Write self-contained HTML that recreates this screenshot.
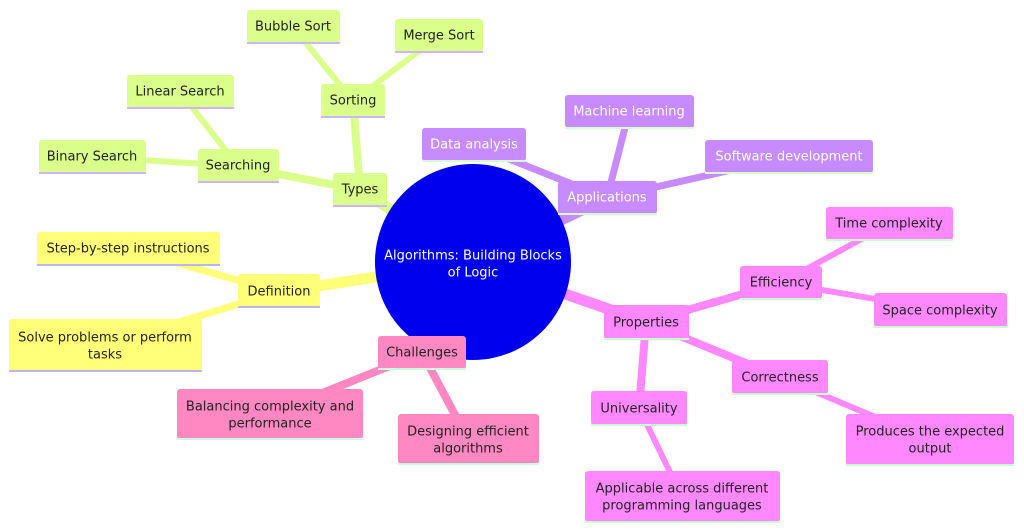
<!DOCTYPE html>
<html><head><meta charset="utf-8"><style>
html,body{margin:0;padding:0;background:#fff;}
svg{display:block;}
text{font-family:"DejaVu Sans","Liberation Sans",sans-serif;font-size:13px;text-anchor:middle;dominant-baseline:central;}
</style></head><body>
<svg width="1024" height="531" viewBox="0 0 1024 531" xmlns="http://www.w3.org/2000/svg">
<g stroke-linecap="round" fill="none">
<g stroke="#daff8a">
<line x1="360" y1="190" x2="473" y2="262" stroke-width="11"/>
<line x1="238" y1="166" x2="360" y2="190" stroke-width="8"/>
<line x1="353" y1="101" x2="360" y2="190" stroke-width="8"/>
<line x1="92" y1="157" x2="238" y2="166" stroke-width="6"/>
<line x1="180" y1="92" x2="238" y2="166" stroke-width="6"/>
<line x1="293" y1="27" x2="353" y2="101" stroke-width="6"/>
<line x1="439" y1="36" x2="353" y2="101" stroke-width="6"/>
</g>
<g stroke="#ffff78">
<line x1="279" y1="292" x2="473" y2="262" stroke-width="11"/>
<line x1="128" y1="249" x2="279" y2="292" stroke-width="7"/>
<line x1="102" y1="345" x2="279" y2="292" stroke-width="7"/>
</g>
<g stroke="#c78bff">
<line x1="607" y1="198" x2="473" y2="262" stroke-width="11"/>
<line x1="474" y1="145" x2="607" y2="198" stroke-width="7"/>
<line x1="629" y1="112" x2="607" y2="198" stroke-width="7"/>
<line x1="789" y1="157" x2="607" y2="198" stroke-width="7"/>
</g>
<g stroke="#ff88ff">
<line x1="646" y1="322" x2="473" y2="262" stroke-width="11"/>
<line x1="781" y1="283" x2="646" y2="322" stroke-width="8"/>
<line x1="780" y1="377" x2="646" y2="322" stroke-width="8"/>
<line x1="639" y1="408" x2="646" y2="322" stroke-width="8"/>
<line x1="889" y1="224" x2="781" y2="283" stroke-width="6"/>
<line x1="940" y1="310" x2="781" y2="283" stroke-width="6"/>
<line x1="930" y1="440" x2="780" y2="377" stroke-width="6"/>
<line x1="682" y1="497" x2="639" y2="408" stroke-width="6"/>
</g>
<g stroke="#ff88c2">
<line x1="422" y1="353" x2="473" y2="262" stroke-width="11"/>
<line x1="270" y1="414" x2="422" y2="353" stroke-width="8"/>
<line x1="468" y1="439" x2="422" y2="353" stroke-width="8"/>
</g>
</g>
<circle cx="473" cy="262" r="98" fill="#0000ee"/>
<text x="473" y="256" fill="#fff">Algorithms: Building Blocks</text>
<text x="473" y="273" fill="#fff">of Logic</text>

<!-- green -->
<g fill="#daff8a">
<rect x="247" y="10" width="93" height="33" rx="3"/>
<rect x="395" y="19" width="88" height="33" rx="3"/>
<rect x="127" y="75" width="107" height="33" rx="3"/>
<rect x="321" y="84" width="64" height="33" rx="3"/>
<rect x="39" y="140" width="107" height="33" rx="3"/>
<rect x="198" y="149" width="81" height="33" rx="3"/>
<rect x="333" y="173" width="54" height="33" rx="3"/>
</g>
<g fill="#cdb6ff">
<rect x="247" y="42" width="93" height="2"/><rect x="395" y="51" width="88" height="2"/>
<rect x="127" y="107" width="107" height="2"/><rect x="321" y="116" width="64" height="2"/>
<rect x="39" y="172" width="107" height="2"/><rect x="198" y="181" width="81" height="2"/>
<rect x="333" y="205" width="54" height="2"/>
</g>
<g fill="#222">
<text x="293" y="27">Bubble Sort</text>
<text x="439" y="36">Merge Sort</text>
<text x="180" y="92">Linear Search</text>
<text x="353" y="101">Sorting</text>
<text x="92" y="157">Binary Search</text>
<text x="238" y="166">Searching</text>
<text x="360" y="190">Types</text>
</g>

<!-- yellow -->
<g fill="#ffff78">
<rect x="37" y="232" width="183" height="33" rx="3"/>
<rect x="238" y="274" width="82" height="33" rx="3"/>
<rect x="9" y="319" width="193" height="52" rx="3"/>
</g>
<g fill="#b7b7ff">
<rect x="37" y="264" width="183" height="2"/><rect x="238" y="306" width="82" height="2"/><rect x="9" y="370" width="193" height="2"/>
</g>
<g fill="#222">
<text x="128" y="249">Step-by-step instructions</text>
<text x="279" y="292">Definition</text>
<text x="105" y="338">Solve problems or perform</text>
<text x="105" y="355">tasks</text>
</g>

<!-- purple -->
<g fill="#c78bff">
<rect x="422" y="128" width="104" height="33" rx="3"/>
<rect x="565" y="95" width="129" height="33" rx="3"/>
<rect x="705" y="140" width="168" height="33" rx="3"/>
<rect x="558" y="181" width="99" height="33" rx="3"/>
</g>
<g fill="#d5ffd0">
<rect x="422" y="160" width="104" height="2"/><rect x="565" y="127" width="129" height="2"/>
<rect x="705" y="172" width="168" height="2"/><rect x="558" y="213" width="99" height="2"/>
</g>
<g fill="#fff">
<text x="474" y="145">Data analysis</text>
<text x="629" y="112">Machine learning</text>
<text x="789" y="157">Software development</text>
<text x="607" y="198">Applications</text>
</g>

<!-- magenta -->
<g fill="#ff88ff">
<rect x="826" y="207" width="127" height="33" rx="3"/>
<rect x="740" y="266" width="82" height="33" rx="3"/>
<rect x="874" y="293" width="133" height="34" rx="3"/>
<rect x="604" y="305" width="85" height="34" rx="3"/>
<rect x="732" y="360" width="96" height="34" rx="3"/>
<rect x="591" y="391" width="96" height="34" rx="3"/>
<rect x="846" y="414" width="168" height="51" rx="3"/>
<rect x="585" y="471" width="195" height="51" rx="3"/>
</g>
<g fill="#c8ffd0">
<rect x="826" y="239" width="127" height="2"/><rect x="740" y="298" width="82" height="2"/>
<rect x="874" y="326" width="133" height="2"/><rect x="604" y="338" width="85" height="2"/>
<rect x="732" y="393" width="96" height="2"/><rect x="591" y="424" width="96" height="2"/>
<rect x="846" y="464" width="168" height="2"/><rect x="585" y="521" width="195" height="2"/>
</g>
<g fill="#222">
<text x="889" y="224">Time complexity</text>
<text x="781" y="283">Efficiency</text>
<text x="940" y="311">Space complexity</text>
<text x="646" y="323">Properties</text>
<text x="780" y="378">Correctness</text>
<text x="639" y="409">Universality</text>
<text x="930" y="432">Produces the expected</text>
<text x="930" y="449">output</text>
<text x="682" y="489">Applicable across different</text>
<text x="682" y="506">programming languages</text>
</g>

<!-- pink -->
<g fill="#ff88c2">
<rect x="378" y="336" width="88" height="33" rx="3"/>
<rect x="177" y="389" width="186" height="50" rx="3"/>
<rect x="398" y="414" width="141" height="50" rx="3"/>
</g>
<g fill="#c8ffe0">
<rect x="378" y="368" width="88" height="2"/><rect x="177" y="438" width="186" height="2"/><rect x="398" y="463" width="141" height="2"/>
</g>
<g fill="#222">
<text x="422" y="353">Challenges</text>
<text x="270" y="407">Balancing complexity and</text>
<text x="270" y="424">performance</text>
<text x="468" y="432">Designing efficient</text>
<text x="468" y="449">algorithms</text>
</g>
</svg>
</body></html>
